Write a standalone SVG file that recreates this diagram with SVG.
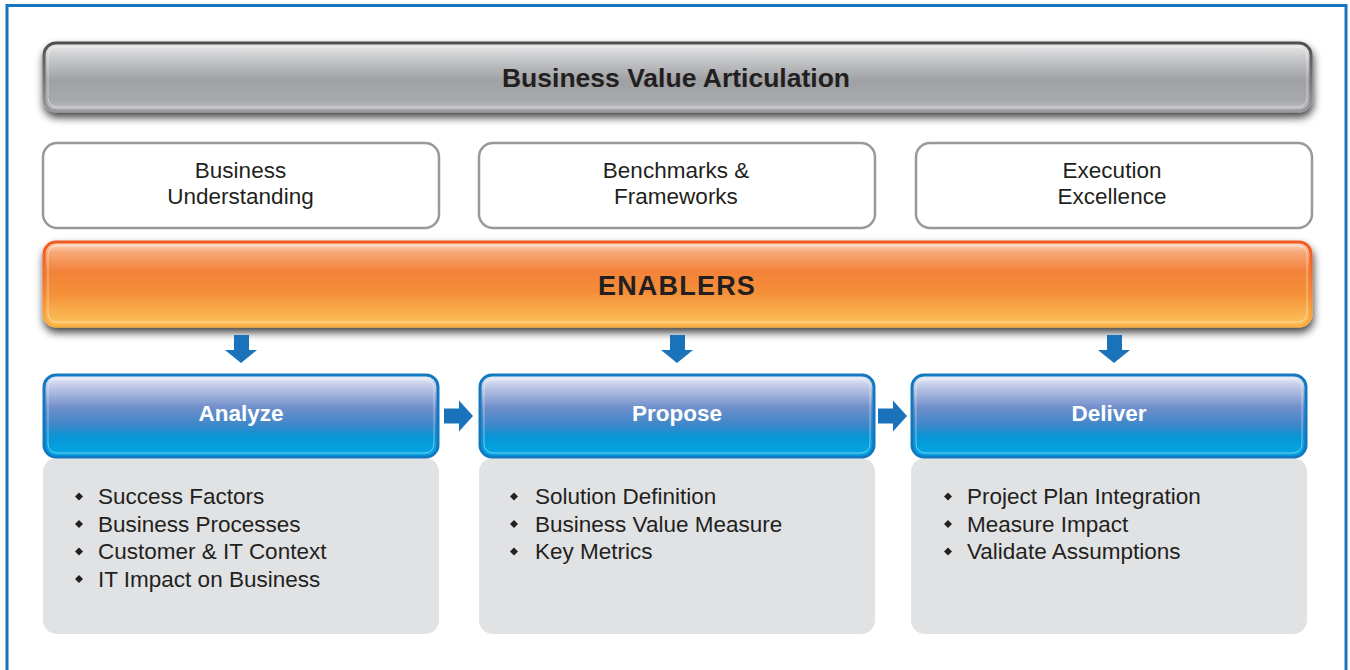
<svg xmlns="http://www.w3.org/2000/svg" width="1350" height="670" viewBox="0 0 1350 670">
<defs>
<linearGradient id="gGray" x1="0" y1="0" x2="0" y2="1">
<stop offset="0" stop-color="#ebebec"/>
<stop offset="0.25" stop-color="#c4c5c7"/>
<stop offset="0.55" stop-color="#a0a1a5"/>
<stop offset="0.85" stop-color="#a8a9ad"/>
<stop offset="1" stop-color="#c2c3c6"/>
</linearGradient>
<linearGradient id="gGrayStroke" x1="0" y1="0" x2="0" y2="1">
<stop offset="0" stop-color="#505052"/>
<stop offset="0.6" stop-color="#7a7a7d"/>
<stop offset="1" stop-color="#9a9a9d"/>
</linearGradient>
<linearGradient id="gOrange" x1="0" y1="0" x2="0" y2="1">
<stop offset="0" stop-color="#fce0cc"/>
<stop offset="0.12" stop-color="#f8a877"/>
<stop offset="0.35" stop-color="#f3823a"/>
<stop offset="0.6" stop-color="#f48f38"/>
<stop offset="1" stop-color="#fdc45c"/>
</linearGradient>
<linearGradient id="gOrangeStroke" x1="0" y1="0" x2="0" y2="1">
<stop offset="0" stop-color="#f05a22"/>
<stop offset="0.5" stop-color="#f27a30"/>
<stop offset="1" stop-color="#fbb040"/>
</linearGradient>
<linearGradient id="gBlue" x1="0" y1="0" x2="0" y2="1">
<stop offset="0" stop-color="#f0f2fa"/>
<stop offset="0.12" stop-color="#c6cde9"/>
<stop offset="0.4" stop-color="#6f8ecb"/>
<stop offset="0.62" stop-color="#3a87c9"/>
<stop offset="0.75" stop-color="#0795d6"/>
<stop offset="1" stop-color="#03a9e6"/>
</linearGradient>
<filter id="shadow" x="-5%" y="-30%" width="110%" height="170%">
<feGaussianBlur in="SourceAlpha" stdDeviation="4"/>
<feOffset dx="1" dy="5" result="b"/>
<feComponentTransfer><feFuncA type="linear" slope="0.75"/></feComponentTransfer>
<feMerge><feMergeNode/><feMergeNode in="SourceGraphic"/></feMerge>
</filter>
<style>
.txt{font-family:"Liberation Sans",Arial,sans-serif;fill:#231f20;}
.white{fill:#ffffff;stroke:#98999b;stroke-width:2.5;}
.body{fill:#e1e2e4;}
.hdr{fill:url(#gBlue);stroke:#1279c0;stroke-width:3;}
.inner{fill:none;stroke:#ffffff;stroke-opacity:0.45;stroke-width:1;}
.arrow{fill:#1a73ba;}
.lbl{font-size:22.5px;text-anchor:middle;}
.hl{font-size:22.5px;font-weight:bold;fill:#ffffff;text-anchor:middle;}
.bl{font-size:22.5px;}
</style>
</defs>
<rect x="7" y="5.5" width="1339" height="680" fill="#ffffff" stroke="#1675be" stroke-width="3"/>

<g id="business-value-articulation">
<rect x="44" y="43" width="1267" height="68" rx="12" fill="url(#gGray)" stroke="url(#gGrayStroke)" stroke-width="3" filter="url(#shadow)"/>
<rect x="48" y="47" width="1259" height="60" rx="9" class="inner"/>
<text x="676" y="86.5" class="txt" font-size="26.5" font-weight="bold" text-anchor="middle">Business Value Articulation</text>
</g>

<g id="business-understanding">
<rect x="43" y="143" width="396" height="85" rx="14" class="white"/>
<text class="txt lbl" x="240.5" y="178">Business</text>
<text class="txt lbl" x="240.5" y="204">Understanding</text>
</g>
<g id="benchmarks-frameworks">
<rect x="479" y="143" width="396" height="85" rx="14" class="white"/>
<text class="txt lbl" x="676" y="178">Benchmarks &amp;</text>
<text class="txt lbl" x="676" y="204">Frameworks</text>
</g>
<g id="execution-excellence">
<rect x="916" y="143" width="396" height="85" rx="14" class="white"/>
<text class="txt lbl" x="1112" y="178">Execution</text>
<text class="txt lbl" x="1112" y="204">Excellence</text>
</g>

<g id="enablers">
<rect x="44" y="242" width="1267" height="84" rx="12" fill="url(#gOrange)" stroke="url(#gOrangeStroke)" stroke-width="3" filter="url(#shadow)"/>
<rect x="48" y="246" width="1259" height="76" rx="9" class="inner"/>
<text x="677" y="295" class="txt" font-size="27" font-weight="bold" letter-spacing="1.2" text-anchor="middle">ENABLERS</text>
</g>

<g id="analyze">
<rect x="43" y="458" width="396" height="176" rx="14" class="body"/>
<rect x="44" y="375" width="394" height="82" rx="12" class="hdr"/>
<rect x="48" y="379" width="386" height="74" rx="9" class="inner"/>
<text class="txt hl" x="241" y="421">Analyze</text>
<g class="txt bl">
<text x="98" y="504">Success Factors</text>
<text x="98" y="531.5">Business Processes</text>
<text x="98" y="559">Customer &amp; IT Context</text>
<text x="98" y="586.5">IT Impact on Business</text>
</g>
<g fill="#231f20">
<path d="M79 492.5l4 4-4 4-4-4z"/>
<path d="M79 520l4 4-4 4-4-4z"/>
<path d="M79 547.5l4 4-4 4-4-4z"/>
<path d="M79 575l4 4-4 4-4-4z"/>
</g>
</g>

<g id="propose">
<rect x="479" y="458" width="396" height="176" rx="14" class="body"/>
<rect x="480" y="375" width="394" height="82" rx="12" class="hdr"/>
<rect x="484" y="379" width="386" height="74" rx="9" class="inner"/>
<text class="txt hl" x="677" y="421">Propose</text>
<g class="txt bl">
<text x="535" y="504">Solution Definition</text>
<text x="535" y="531.5">Business Value Measure</text>
<text x="535" y="559">Key Metrics</text>
</g>
<g fill="#231f20">
<path d="M514 492.5l4 4-4 4-4-4z"/>
<path d="M514 520l4 4-4 4-4-4z"/>
<path d="M514 547.5l4 4-4 4-4-4z"/>
</g>
</g>

<g id="deliver">
<rect x="911" y="458" width="396" height="176" rx="14" class="body"/>
<rect x="912" y="375" width="394" height="82" rx="12" class="hdr"/>
<rect x="916" y="379" width="386" height="74" rx="9" class="inner"/>
<text class="txt hl" x="1109" y="421">Deliver</text>
<g class="txt bl">
<text x="967" y="504">Project Plan Integration</text>
<text x="967" y="531.5">Measure Impact</text>
<text x="967" y="559">Validate Assumptions</text>
</g>
<g fill="#231f20">
<path d="M948 492.5l4 4-4 4-4-4z"/>
<path d="M948 520l4 4-4 4-4-4z"/>
<path d="M948 547.5l4 4-4 4-4-4z"/>
</g>
</g>

<g id="connectors" class="arrow">
<path d="M234 335h15v15h8l-16 13-16-13h9z"/>
<path d="M670 335h15v15h8l-16 13-16-13h9z"/>
<path d="M1107 335h15v15h8l-16 13-16-13h9z"/>
<path d="M444 408.5h15v-8l14 15.5-14 15.5v-8h-15z"/>
<path d="M878 408.5h15v-8l14 15.5-14 15.5v-8h-15z"/>
</g>
</svg>
